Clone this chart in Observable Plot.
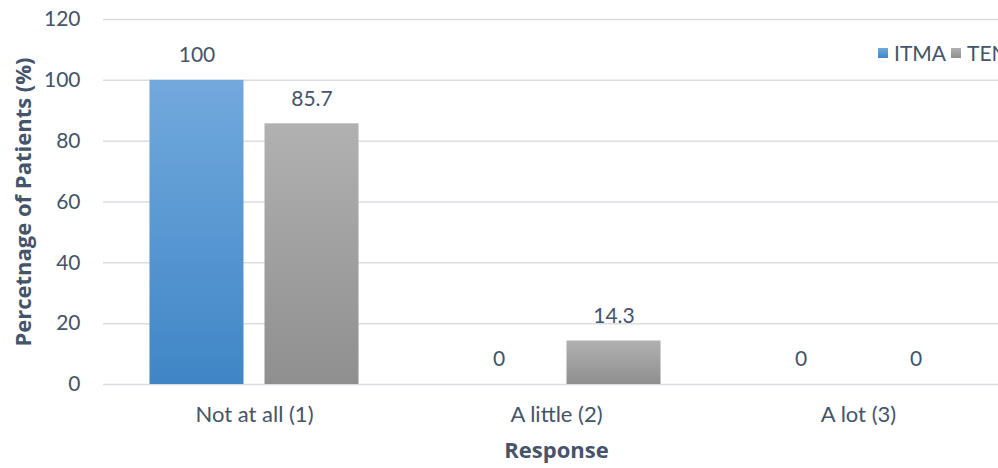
<!DOCTYPE html>
<html>
<head>
<meta charset="utf-8">
<script src="https://cdn.jsdelivr.net/npm/d3@7"></script>
<script src="https://cdn.jsdelivr.net/npm/@observablehq/plot@0.6"></script>
<style>
  html, body { margin: 0; padding: 0; background: #fff; }
  #wrap { position: relative; width: 998px; height: 468px; overflow: hidden; }
  #chart svg { display: block; max-width: none !important; }
  g[aria-label="y-axis label"] text, g[aria-label="fx-axis label"] text {
    font-family: "Open Sans", sans-serif; font-weight: bold; font-size: 22px;
  }
  g[aria-label="fx-axis tick label"] text { font-size: 22px; }
  #legend { position: absolute; left: 878px; top: 40px; display: flex; align-items: center;
            font-family: Lato, sans-serif; font-size: 21px; color: #44546A; white-space: nowrap; }
  #legend .sw { width: 10px; height: 10px; margin-right: 6px; }
  #legend .item { display: flex; align-items: center; margin-right: 5px; }
</style>
</head>
<body>
<div id="wrap">
  <div id="chart"></div>
  <div id="legend"></div>
</div>
<script>
// Response categories and the share of patients (%) in each group
const categories = ["Not at all (1)", "A little (2)", "A lot (3)"];
const seriesNames = ["ITMA", "TENS"];
const itmaValues = [100, 0, 0];
const tensValues = [85.7, 14.3, 0];
const yTicks = [0, 20, 40, 60, 80, 100, 120];

const gradients = {
  ITMA: { id: "grad-itma", top: "#72a9dd", bottom: "#3f86c6" },
  TENS: { id: "grad-tens", top: "#b1b1b1", bottom: "#8f8f8f" }
};

const data = categories.flatMap((c, i) => [
  { category: c, series: "ITMA", value: itmaValues[i] },
  { category: c, series: "TENS", value: tensValues[i] }
]);

const textColor = "#44546A";

const chart = Plot.plot({
  width: 1011,
  height: 468,
  marginLeft: 103,
  marginRight: 2,
  marginTop: 19,
  marginBottom: 84,
  style: { fontFamily: "Lato, sans-serif", fontSize: "21px", color: textColor, background: "#fff" },
  fx: { domain: categories, padding: 0, round: false },
  x: { domain: seriesNames, paddingInner: 0.1826, paddingOuter: 0.404, round: false, axis: null },
  y: { domain: [0, 120] },
  color: { domain: seriesNames, range: seriesNames.map(s => `url(#${gradients[s].id})`) },
  marks: [
    Plot.ruleY(yTicks, { stroke: "#d9dde3", strokeWidth: 1.5 }),
    Plot.barY(data, { fx: "category", x: "series", y: "value", fill: "series" }),
    Plot.text(data, {
      fx: "category", x: "series", y: "value",
      text: d => String(d.value), dy: -25, fill: textColor
    }),
    Plot.axisY({
      ticks: yTicks, tickSize: 0, tickPadding: 23,
      label: "Percetnage of Patients (%)", labelAnchor: "center", labelArrow: "none", labelOffset: 88
    }),
    Plot.axisFx({
      anchor: "bottom", tickSize: 0, tickPadding: 22,
      label: "Response", labelAnchor: "center", labelArrow: "none", labelOffset: 73
    })
  ]
});

// vertical gradients used to fill the bars
const defs = d3.select(chart).insert("defs", ":first-child");
for (const s of seriesNames) {
  const g = gradients[s];
  const lg = defs.append("linearGradient").attr("id", g.id)
    .attr("x1", 0).attr("y1", 0).attr("x2", 0).attr("y2", 1);
  lg.append("stop").attr("offset", "0%").attr("stop-color", g.top);
  lg.append("stop").attr("offset", "100%").attr("stop-color", g.bottom);
}
document.getElementById("chart").appendChild(chart);

// legend
const legend = d3.select("#legend");
for (const s of seriesNames) {
  const g = gradients[s];
  const item = legend.append("div").attr("class", "item");
  item.append("div").attr("class", "sw")
    .style("background", `linear-gradient(${g.top}, ${g.bottom})`);
  item.append("span").text(s);
}
</script>
</body>
</html>
